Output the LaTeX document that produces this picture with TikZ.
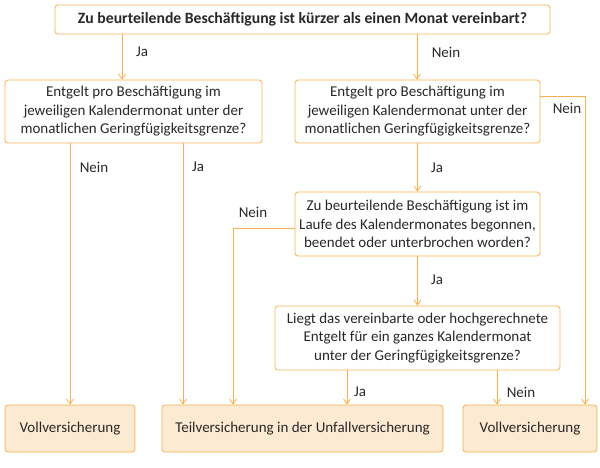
\documentclass[tikz,border=0pt]{standalone}
\usepackage{fontspec}
\setmainfont{Carlito}
\usetikzlibrary{arrows.meta}
\definecolor{org}{RGB}{247,176,80}
\definecolor{lfill}{RGB}{253,234,210}
\definecolor{txt}{RGB}{40,40,40}
\begin{document}
\begin{tikzpicture}[x=1pt,y=-1pt,
  box/.style={draw=org,line width=0.8pt,rounded corners=3pt,fill=white,align=center,inner sep=0pt,text=txt,font=\fontsize{15}{18.5}\selectfont},
  res/.style={box,fill=lfill},
  arr/.style={draw=org,line width=0.8pt,-{Straight Barb[length=5pt,width=7pt]}},
  lbl/.style={text=txt,font=\fontsize{15}{18}\selectfont,inner sep=0pt}]
\useasboundingbox (0,0) rectangle (600,467);
\node[box,minimum width=495pt,minimum height=29pt,font=\fontsize{15.7}{19}\selectfont\bfseries] (top) at (302.5,19.5) {Zu beurteilende Beschäftigung ist kürzer als einen Monat vereinbart?};
\node[box,minimum width=257pt,minimum height=63pt] (L) at (133.5,111.5) {Entgelt pro Beschäftigung im\\ jeweiligen Kalendermonat unter der\\ monatlichen Geringfügigkeitsgrenze?};
\node[box,minimum width=245pt,minimum height=63pt] (R) at (417.5,111.5) {Entgelt pro Beschäftigung im\\ jeweiligen Kalendermonat unter der\\ monatlichen Geringfügigkeitsgrenze?};
\node[box,minimum width=245pt,minimum height=64pt] (M) at (417.5,224) {Zu beurteilende Beschäftigung ist im\\ Laufe des Kalendermonates begonnen,\\ beendet oder unterbrochen worden?};
\node[box,minimum width=285pt,minimum height=64pt] (U) at (417.5,338) {Liegt das vereinbarte oder hochgerechnete\\ Entgelt für ein ganzes Kalendermonat\\ unter der Geringfügigkeitsgrenze?};
\node[res,minimum width=130pt,minimum height=47pt] (V1) at (70,428.5) {Vollversicherung};
\node[res,minimum width=281pt,minimum height=47pt] (T) at (302.5,428.5) {Teilversicherung in der Unfallversicherung};
\node[res,minimum width=134pt,minimum height=47pt] (V2) at (530,428.5) {Vollversicherung};
\coordinate (c1) at (585,96);
\coordinate (c2) at (233,228);
\draw[arr] (top.south -| 122,0) -- (L.north -| 122,0);
\draw[arr] (top.south -| 417,0) -- (R.north -| 417,0);
\draw[arr] (L.south -| 70,0) -- (V1.north -| 70,0);
\draw[arr] (L.south -| 183,0) -- (T.north -| 183,0);
\draw[arr] (R) -- (M);
\draw[arr] (R.east |- c1) -- (c1) -- (V2.north -| c1);
\draw[arr] (M.west |- c2) -- (c2) -- (T.north -| c2);
\draw[arr] (M) -- (U);
\draw[arr] (U.south -| 347,0) -- (T.north -| 347,0);
\draw[arr] (U.south -| 497,0) -- (V2.north -| 497,0);
\node[lbl] (l1) at (142,52) {Ja};
\node[lbl] (l2) at (446,52) {Nein};
\node[lbl] (l3) at (94,167) {Nein};
\node[lbl] (l4) at (198,167) {Ja};
\node[lbl] (l5) at (437,168) {Ja};
\node[lbl] (l6) at (567,108) {Nein};
\node[lbl] (l7) at (253,212) {Nein};
\node[lbl] (l8) at (437,280) {Ja};
\node[lbl] (l9) at (360,392) {Ja};
\node[lbl] (l10) at (521,392) {Nein};
\end{tikzpicture}
\end{document}
